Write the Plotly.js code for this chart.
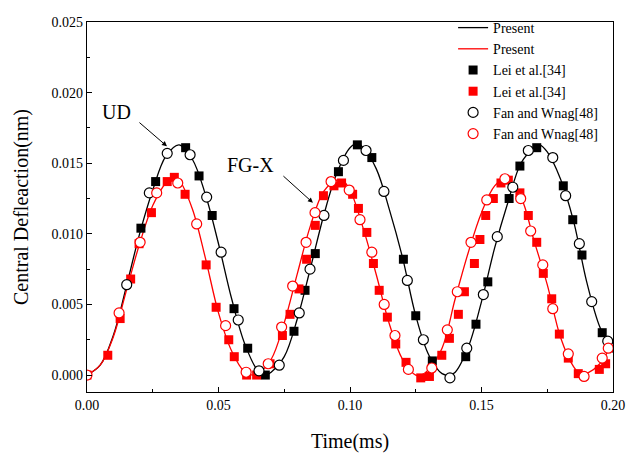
<!DOCTYPE html>
<html>
<head>
<meta charset="utf-8">
<script src="https://cdn.plot.ly/plotly-3.0.1.min.js"></script>
<style>html,body{margin:0;padding:0;background:#fff;}#chart{width:627px;height:458px;}</style>
</head>
<body>
<div id="chart"></div>
<script>
// Present (UD) - black line
const udLineT = [0,0.005,0.010,0.015,0.020,0.025,0.030,0.035,0.040,0.045,0.050,0.055,0.060,0.065,0.068,0.070,0.075,0.080,0.085,0.090,0.095,0.100,0.103,0.105,0.110,0.115,0.120,0.125,0.130,0.135,0.138,0.140,0.145,0.150,0.155,0.160,0.165,0.170,0.172,0.175,0.180,0.185,0.190,0.195,0.200];
const udLineY = [0,0.0007,0.0028,0.0063,0.0100,0.0131,0.0155,0.0163,0.0153,0.0128,0.0093,0.0054,0.0022,0.0003,0.0000,0.0002,0.0013,0.0040,0.0076,0.0113,0.0143,0.0161,0.0164,0.0161,0.0146,0.0117,0.0083,0.0042,0.0014,0.0001,0.0000,0.0002,0.0020,0.0052,0.0090,0.0122,0.0150,0.0161,0.0163,0.0158,0.0139,0.0109,0.0066,0.0034,0.0016];
// Present (FG-X) - red line
const fgLineT = [0,0.005,0.010,0.015,0.020,0.025,0.030,0.033,0.035,0.040,0.045,0.050,0.055,0.060,0.063,0.065,0.070,0.075,0.080,0.085,0.090,0.095,0.097,0.100,0.105,0.110,0.115,0.120,0.125,0.127,0.130,0.135,0.140,0.145,0.150,0.155,0.159,0.160,0.165,0.170,0.175,0.180,0.185,0.188,0.190,0.195,0.200];
const fgLineY = [0,0.0007,0.0027,0.0060,0.0093,0.0120,0.0136,0.0140,0.0138,0.0118,0.0083,0.0044,0.0017,0.0002,0.0000,0.0001,0.0011,0.0037,0.0072,0.0106,0.0130,0.0138,0.0138,0.0131,0.0104,0.0071,0.0036,0.0011,0.0000,0.0000,0.0004,0.0019,0.0054,0.0087,0.0115,0.0134,0.0139,0.0138,0.0126,0.0095,0.0064,0.0027,0.0006,0.0000,0.0001,0.0008,0.0024];
// Lei et al.[34] UD - black squares
const leiUdT = [0.0205,0.0261,0.0375,0.0426,0.0476,0.0559,0.0611,0.0678,0.0787,0.0829,0.0868,0.0956,0.1028,0.1083,0.1203,0.1250,0.1313,0.1440,0.1479,0.1524,0.1605,0.1646,0.1710,0.1811,0.1847,0.1882,0.1959];
const leiUdY = [0.0104,0.0137,0.0161,0.0141,0.0113,0.0047,0.0019,0.0000,0.0031,0.0060,0.0086,0.0144,0.0163,0.0154,0.0082,0.0042,0.0010,0.0013,0.0036,0.0066,0.0125,0.0148,0.0161,0.0134,0.0110,0.0085,0.0030];
// Lei et al.[34] FG-X - red squares
const leiFgT = [0,0.0079,0.0126,0.0166,0.0198,0.0245,0.0305,0.0332,0.0373,0.0453,0.0491,0.0539,0.0560,0.0607,0.0645,0.0696,0.0743,0.0772,0.0806,0.0835,0.0868,0.0899,0.0939,0.0968,0.1010,0.1032,0.1064,0.1089,0.1111,0.1142,0.1174,0.1213,0.1269,0.1302,0.1349,0.1378,0.1412,0.1435,0.1473,0.1494,0.1516,0.1545,0.1574,0.1602,0.1646,0.1678,0.1710,0.1735,0.1767,0.1796,0.1830,0.1868,0.1948,0.1972];
const leiFgY = [0,0.0014,0.0040,0.0068,0.0093,0.0115,0.0137,0.0140,0.0128,0.0078,0.0048,0.0025,0.0013,0.0000,0.0000,0.0008,0.0028,0.0043,0.0061,0.0082,0.0106,0.0127,0.0134,0.0136,0.0128,0.0118,0.0101,0.0079,0.0060,0.0041,0.0022,0.0009,-0.0002,-0.0001,0.0014,0.0026,0.0043,0.0059,0.0079,0.0096,0.0113,0.0125,0.0136,0.0138,0.0129,0.0113,0.0094,0.0072,0.0054,0.0029,0.0012,0.0001,0.0004,0.0008];
// Fan and Wnag[48] UD - black circles
const fanUdT = [0.0151,0.0237,0.0305,0.0392,0.0455,0.0510,0.0575,0.0654,0.0731,0.0807,0.0848,0.0901,0.0975,0.1061,0.1129,0.1218,0.1279,0.1380,0.1444,0.1507,0.1560,0.1619,0.1678,0.1771,0.1820,0.1872,0.1919,0.1980];
const fanUdY = [0.0064,0.0129,0.0157,0.0156,0.0126,0.0087,0.0039,0.0003,0.0007,0.0044,0.0075,0.0113,0.0152,0.0159,0.0130,0.0067,0.0025,-0.0002,0.0019,0.0057,0.0098,0.0133,0.0159,0.0154,0.0127,0.0093,0.0052,0.0024];
// Fan and Wnag[48] FG-X - red circles
const fanFgT = [0,0.0122,0.0202,0.0265,0.0345,0.0417,0.0527,0.0605,0.0689,0.0740,0.0782,0.0833,0.0867,0.0928,0.0997,0.1038,0.1083,0.1130,0.1171,0.1222,0.1311,0.1370,0.1408,0.1460,0.1520,0.1589,0.1649,0.1687,0.1733,0.1771,0.1830,0.1890,0.1959,0.1982];
const fanFgY = [0,0.0044,0.0094,0.0129,0.0136,0.0107,0.0035,0.0002,0.0008,0.0034,0.0063,0.0094,0.0115,0.0137,0.0131,0.0110,0.0087,0.0050,0.0028,0.0004,0.0005,0.0032,0.0059,0.0094,0.0124,0.0139,0.0125,0.0102,0.0078,0.0047,0.0015,-0.0001,0.0012,0.0019];

const FONT = 'Liberation Serif';
const traces = [
  {x: udLineT, y: udLineY, mode: 'lines', name: 'Present', line: {color: '#000', width: 1.3, shape: 'spline'}},
  {x: fgLineT, y: fgLineY, mode: 'lines', name: 'Present', line: {color: '#ff0000', width: 1.3, shape: 'spline'}},
  {x: leiUdT, y: leiUdY, mode: 'markers', name: 'Lei et al.[34]', marker: {symbol: 'square', size: 9, color: '#000'}},
  {x: leiFgT, y: leiFgY, mode: 'markers', name: 'Lei et al.[34]', marker: {symbol: 'square', size: 9, color: '#ff0000'}},
  {x: fanUdT, y: fanUdY, mode: 'markers', name: 'Fan and Wnag[48]', marker: {symbol: 'circle', size: 10, color: '#fff', line: {color: '#000', width: 1.2}}},
  {x: fanFgT, y: fanFgY, mode: 'markers', name: 'Fan and Wnag[48]', marker: {symbol: 'circle', size: 10, color: '#fff', line: {color: '#ff0000', width: 1.2}}}
];

const layout = {
  width: 627, height: 458,
  margin: {l: 87, r: 14, t: 14, b: 66},
  paper_bgcolor: '#fff', plot_bgcolor: '#fff',
  font: {family: FONT, size: 14, color: '#000'},
  showlegend: true,
  legend: {x: 0.696, y: 1.027, xanchor: 'left', yanchor: 'top', bgcolor: 'rgba(0,0,0,0)', borderwidth: 0,
           font: {family: FONT, size: 14, color: '#000'}, tracegroupgap: 0, itemwidth: 30},
  xaxis: {
    range: [0, 0.2], dtick: 0.05, tick0: 0, tickformat: '.2f',
    ticks: 'inside', ticklen: 5, tickwidth: 1, tickcolor: '#000',
    minor: {dtick: 0.025, ticks: 'inside', ticklen: 3, tickcolor: '#000'},
    showline: true, linecolor: '#000', linewidth: 1.3, mirror: true,
    showgrid: false, zeroline: false,
    tickfont: {family: FONT, size: 14},
    title: {text: 'Time(ms)', font: {family: FONT, size: 20}, standoff: 22}
  },
  yaxis: {
    range: [-0.0012, 0.025], dtick: 0.005, tick0: 0, tickformat: '.3f',
    ticks: 'inside', ticklen: 5, tickwidth: 1, tickcolor: '#000',
    minor: {dtick: 0.0025, ticks: 'inside', ticklen: 3, tickcolor: '#000'},
    showline: true, linecolor: '#000', linewidth: 1.3, mirror: true,
    showgrid: false, zeroline: false,
    tickfont: {family: FONT, size: 14},
    title: {text: 'Central Defleaction(nm)', font: {family: FONT, size: 20}, standoff: 17}
  },
  annotations: [
    {x: 0.0304, y: 0.0162, ax: -29, ay: -25, xref: 'x', yref: 'y',
     text: '', showarrow: true, arrowhead: 2, arrowsize: 1, arrowwidth: 1, arrowcolor: '#000'},
    {x: 0.0113, y: 0.0186, xref: 'x', yref: 'y', text: 'UD', showarrow: false, font: {family: FONT, size: 20}},
    {x: 0.0859, y: 0.0122, xref: 'x', yref: 'y', text: '', showarrow: true, ax: -31, ay: -28,
     arrowhead: 2, arrowsize: 1, arrowwidth: 1, arrowcolor: '#000'},
    {x: 0.0620, y: 0.0149, xref: 'x', yref: 'y', text: 'FG-X', showarrow: false, font: {family: FONT, size: 20}}
  ]
};

Plotly.newPlot('chart', traces, layout, {displayModeBar: false, staticPlot: true});
</script>
</body>
</html>
